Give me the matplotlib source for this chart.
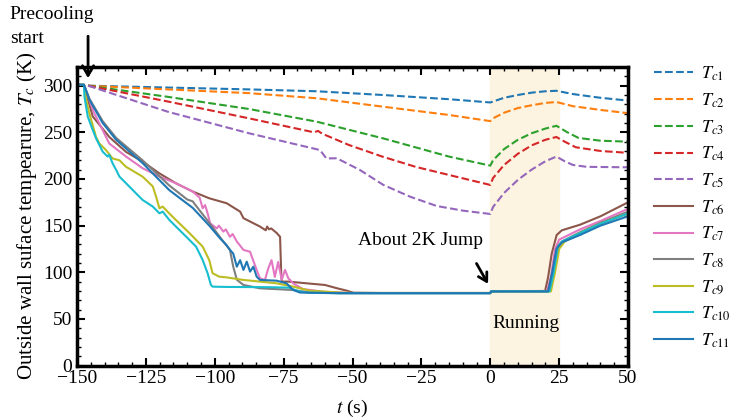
import matplotlib
matplotlib.use("Agg")
import matplotlib.pyplot as plt
import numpy as np
from matplotlib.ticker import MultipleLocator

plt.rcParams['font.family'] = ['Liberation Serif', 'DejaVu Serif']
plt.rcParams['mathtext.fontset'] = 'stix'

# ---- dashed sensors (Tc1..Tc5) ----
t_c1 = [-146, -117, -87.6, -63, -39, -15, 0, 1, 5, 10, 15, 20, 24, 30, 40, 50]
v_c1 = [300, 298, 296, 294, 290, 285.5, 282, 283, 287, 290, 292.5, 294, 294.5, 291, 287, 284]

t_c2 = [-146, -117, -87.6, -63, -39, -15, 0, 1, 5, 10, 15, 20, 24, 30, 40, 50]
v_c2 = [300, 296, 292, 286.5, 277.5, 268.6, 262, 265, 271, 276, 279, 281.5, 282.5, 278, 274, 270.5]

t_c3 = [-146, -117, -87.6, -63, -39, -15, 0, 1, 5, 10, 15, 20, 24, 28, 32, 40, 50]
v_c3 = [300, 288, 275, 261.4, 243.6, 224, 214.3, 220, 232, 242, 249, 254, 257, 250, 244, 241, 240]

t_c4 = [-146, -117, -87.6, -64, -62.5, -61, -51.3, -39.2, -27.1, -15, 0,
        1, 5, 10, 15, 20, 24, 27, 31, 40, 50]
v_c4 = [300, 283, 265, 250, 251.5, 248.5, 236.4, 224, 213, 204.3, 193.6,
        201, 215, 227, 236, 242, 245, 240, 234, 230, 228]

t_c5 = [-146, -117, -87.6, -61.8, -59.5, -55.7, -47.3, -38.8, -29.1, -19.4, -9.8, 0,
        1, 5, 10, 15, 20, 24, 27, 30, 35, 50]
v_c5 = [300, 272, 249, 231, 222, 222.2, 209.6, 193.6, 181, 171, 166, 162.5,
        170, 185, 199, 210, 219, 224, 219, 215, 213, 212.5]

# ---- solid sensors (Tc6..Tc11) ----
t_c6 = [-149, -147.5, -144.3, -138.3, -132.2, -126.2, -120.1, -114.1, -108, -102, -95.7,
        -90.8, -89.6, -83.6, -81.5, -81, -80.3, -79.5, -77.5, -76.3, -75.9, -75.7, -73.3,
        -66, -60, -55.8, -52.1, -49.7, -40, 0, 0.3, 19.9, 21, 22.3, 24.1, 26, 32.6, 40, 50]
v_c6 = [301, 301, 267, 245, 229, 218.6, 206, 195.4, 186.5, 179.3, 174,
        165, 158, 149, 145, 149, 146, 147, 142, 138, 100, 90, 90,
        88, 86.4, 83, 80.3, 78.1, 77.8, 77.8, 79.5, 80, 95, 120, 140, 145, 151, 160, 175]

t_c7 = [-149, -147.5, -144, -138.3, -132.2, -126.2, -120.1, -114.1, -108, -105.5, -104.4,
        -103.5, -102.5, -101.7, -99.3, -98.5, -96.9, -96, -94.5, -93.5, -92, -89.6, -87.2,
        -84.8, -83.6, -81.8, -80.6, -79.4, -78.2, -77, -75.7, -74.5, -73.3, -72.1, -71.5,
        -68, -60, -50, 0, 0.3, 20.5, 22, 23.5, 25, 32.6, 40, 50]
v_c7 = [301, 301, 272, 238, 224, 211.5, 202.6, 195.4, 186.5, 180, 168.6,
        172, 162, 152.5, 147, 150, 143.6, 146, 138, 141, 133, 124, 122,
        102.5, 93.5, 91.8, 104, 113, 95, 111, 92, 102.5, 93.5, 90, 88,
        82, 79, 77.8, 77.8, 79.5, 79.5, 95, 125, 135, 146, 155, 168]

t_c8 = [-149, -147.5, -145.5, -140.7, -135.8, -126.2, -116.5, -110, -108, -107, -102,
        -96.9, -94.5, -93.9, -93.3, -92, -89.6, -83.6, -71.5, -65.5, -55, 0, 0.3, 21,
        22.5, 24.5, 26, 32.6, 40, 50]
v_c8 = [301, 301, 286, 262, 244, 220, 193, 178, 176, 172, 153,
        133, 124, 115, 106, 92, 86.4, 82.8, 81, 78.3, 77.6, 77.6, 79.5, 79.5,
        100, 128, 133, 143, 153, 165]

t_c9 = [-149, -147.5, -146.7, -145.5, -143.1, -141.9, -139.5, -137.1, -134.6, -132.2, -126.2,
        -122.5, -121.3, -120.1, -118.9, -116.5, -114.1, -109.2, -104.4, -102, -100.8, -98.4,
        -95.9, -89.6, -77.6, -71.5, -65.5, -54.6, -50, 0, 0.3, 22, 23.5, 25, 27, 32.6, 40, 50]
v_c9 = [301, 301, 285, 270, 245, 238, 231, 222, 220, 213, 202.5,
        192, 181, 168.6, 170.4, 163, 156, 142, 127.5, 113, 99, 95.3,
        94.6, 91.8, 88.2, 84.6, 80.3, 78.3, 77.8, 77.8, 79.5, 79.5, 100, 125, 133, 142, 152, 163]

t_c10 = [-149, -147.5, -147.3, -146.1, -144.3, -143.1, -140.7, -138.9, -138.3, -137.1, -135.8,
         -134.6, -132.2, -128.6, -126.2, -122.5, -120.1, -118.9, -116.5, -114.1, -110.4, -106.8,
         -104.4, -102.6, -101.4, -100.8, -96, -80, -73, -70, -66, -55, 0, 0.3, 21.5, 23, 24.5,
         26, 32.6, 40, 50]
v_c10 = [301, 301, 288, 266.8, 252.5, 243.6, 229.3, 224, 225.8, 216.8, 209.7,
         202.5, 195.4, 184.6, 177.5, 170.4, 163.2, 165, 156.1, 149, 138.2, 127.5,
         113.2, 98.9, 86.4, 84.6, 84.3, 84, 83.5, 80, 78, 77.6, 77.6, 79.5, 79.5, 100, 127,
         133, 142, 152, 163]

t_c11 = [-149, -147.5, -145.5, -140.7, -135.8, -126.2, -116.5, -108, -102, -98.1, -95.7,
         -94.5, -93.3, -92, -90.8, -89.6, -88.4, -87.2, -86, -84.8, -83.6, -77.6, -74, -71.5,
         -69.1, -54.6, 0, 0.3, 21, 22.5, 24, 26, 32.6, 40, 50]
v_c11 = [301, 301, 285, 260, 242, 217, 188, 169, 150, 136.4, 129,
         124, 120, 106, 113, 102.5, 111.4, 100.7, 106, 95.3, 91.8, 91, 88.2, 81,
         78.3, 77.6, 77.6, 79.5, 79.5, 100, 125, 132, 140, 150, 160]

dashed = [(t_c1, v_c1), (t_c2, v_c2), (t_c3, v_c3), (t_c4, v_c4), (t_c5, v_c5)]
solid = [(t_c6, v_c6), (t_c7, v_c7), (t_c8, v_c8), (t_c9, v_c9), (t_c10, v_c10), (t_c11, v_c11)]
colors = ['#1f77b4', '#ff7f0e', '#2ca02c', '#d62728', '#9467bd',
          '#8c564b', '#e377c2', '#7f7f7f', '#bcbd22', '#17becf', '#1f77b4']
labels = [r'$T_{c%d}$' % i for i in range(1, 12)]

fig = plt.figure(figsize=(7.45, 4.18), dpi=100)
ax = fig.add_axes([0.1034, 0.1254, 0.7396, 0.7143])

ax.axvspan(0, 25, color='#fcf3e0', zorder=0)

for i, (t, v) in enumerate(dashed):
    ax.plot(t, v, '--', color=colors[i], lw=1.5, label=labels[i])
for j, (t, v) in enumerate(solid):
    ax.plot(t, v, '-', color=colors[5 + j], lw=1.5, label=labels[5 + j])

ax.set_xlim(-150, 50)
ax.set_ylim(0, 320)
ax.xaxis.set_major_locator(MultipleLocator(25))
ax.xaxis.set_minor_locator(MultipleLocator(5))
ax.yaxis.set_major_locator(MultipleLocator(50))
ax.yaxis.set_minor_locator(MultipleLocator(10))
ax.tick_params(which='both', direction='in', top=True, right=True, labelsize=14)
ax.tick_params(which='major', length=6, width=1.5)
ax.tick_params(which='minor', length=3, width=1)
ax.tick_params(axis='x', pad=3)
for s in ax.spines.values():
    s.set_linewidth(2.5)

ax.set_xlabel(r'$t$ (s)', fontsize=14, labelpad=8)
ax.set_ylabel(r'Outside wall suface tempearure, $T_c$ (K)', fontsize=15, labelpad=3)

ax.text(-48, 134, 'About 2K Jump', fontsize=14, va='center', ha='left')
ax.annotate('', xy=(-0.3, 85), xytext=(-5.5, 112),
            arrowprops=dict(arrowstyle='->,head_width=0.35,head_length=0.6', lw=2, color='k'))
ax.text(13, 45, 'Running', fontsize=14, ha='center', va='center')

fig.text(0.013, 0.985, 'Precooling\nstart', fontsize=14, va='top', ha='left', linespacing=1.55)
ax.annotate('', xy=(-146, 305), xytext=(-146, 356),
            arrowprops=dict(arrowstyle='->,head_width=0.4,head_length=0.7', lw=2, color='k'),
            annotation_clip=False)

ax.legend(loc='upper left', bbox_to_anchor=(0.87, 0.858), bbox_transform=fig.transFigure,
          frameon=False, fontsize=13, handlelength=2.2, labelspacing=0.46, handletextpad=0.45,
          borderaxespad=0, borderpad=0.3)

fig.savefig('out.png', dpi=100)
